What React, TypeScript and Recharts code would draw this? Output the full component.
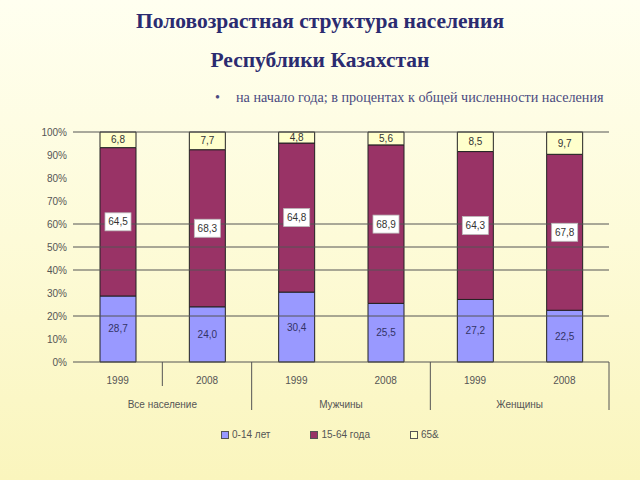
import React from "react";
import {
  BarChart,
  Bar,
  XAxis,
  YAxis,
  ReferenceLine,
  LabelList,
} from "recharts";

const years = ["1999", "2008", "1999", "2008", "1999", "2008"];
const groups = ["Все население", "Мужчины", "Женщины"];
const age0to14 = [28.7, 24.0, 30.4, 25.5, 27.2, 22.5];
const age15to64 = [64.5, 68.3, 64.8, 68.9, 64.3, 67.8];
const age65plus = [6.8, 7.7, 4.8, 5.6, 8.5, 9.7];
const yTicks = [0, 10, 20, 30, 40, 50, 60, 70, 80, 90, 100];
const gridValues = [20, 40, 50, 60, 100];

const seriesNames = ["0-14 лет", "15-64 года", "65&"];
const colors = ["#9999ff", "#993366", "#ffffcc"];

const data = years.map((year, i) => ({
  idx: i,
  year,
  a: age0to14[i],
  b: age15to64[i],
  c: age65plus[i],
}));

const W = 640;
const H = 480;
const PLOT_LEFT = 73;
const PLOT_RIGHT = 609;
const PLOT_TOP = 132;
const PLOT_BOTTOM = 362;
const BAND = (PLOT_RIGHT - PLOT_LEFT) / data.length;

const AXIS_FONT = "'Liberation Sans', Arial, sans-serif";
const SERIF = "'Liberation Serif', 'Times New Roman', serif";
const fmt = (v: number) => v.toFixed(1).replace(".", ",");

const YearTick = (props: any) => {
  const { x, y, payload } = props;
  const i = payload.index;
  const right = x + BAND / 2;
  // separator after each bar: short within the first group, long between groups
  const sepLen = i === 0 ? 24 : i % 2 === 1 ? 48 : 0;
  const groupLabel = i % 2 === 0 ? groups[i / 2] : null;
  return (
    <g>
      <text
        x={x}
        y={y + 22}
        textAnchor="middle"
        fill="#555"
        fontSize={10}
        fontFamily={AXIS_FONT}
      >
        {years[i]}
      </text>
      {sepLen > 0 && (
        <line x1={right} y1={y} x2={right} y2={y + sepLen} stroke="#555" strokeWidth={1} />
      )}
      {groupLabel && (
        <text
          x={right}
          y={y + 46}
          textAnchor="middle"
          fill="#555"
          fontSize={10}
          fontFamily={AXIS_FONT}
        >
          {groupLabel}
        </text>
      )}
    </g>
  );
};

const CenterLabel = (color: string, boxed: boolean) => (props: any) => {
  const { x, y, width, height, value } = props;
  const cx = x + width / 2;
  const cy = y + height / 2;
  return (
    <g>
      {boxed && (
        <rect
          x={cx - 13}
          y={cy - 9}
          width={26}
          height={18}
          fill="#ffffff"
          stroke="#bbbbbb"
          strokeWidth={0.8}
        />
      )}
      <text
        x={cx}
        y={cy + 3.5}
        textAnchor="middle"
        fill={color}
        fontSize={10}
        fontFamily={AXIS_FONT}
      >
        {fmt(value)}
      </text>
    </g>
  );
};

const LegendBlock = () => (
  <div
    style={{
      position: "absolute",
      top: 429,
      left: 221,
      display: "flex",
      gap: 40,
      fontFamily: AXIS_FONT,
      fontSize: 10,
      lineHeight: "12px",
      color: "#555",
      alignItems: "center",
    }}
  >
    {seriesNames.map((name, i) => (
      <div key={name} style={{ display: "flex", alignItems: "center" }}>
        <span
          style={{
            display: "inline-block",
            width: 6,
            height: 6,
            background: colors[i],
            border: "1px solid #555",
            marginRight: 3,
          }}
        />
        {name}
      </div>
    ))}
  </div>
);

export default function App() {
  return (
    <div
      style={{
        position: "absolute",
        left: 0,
        top: 0,
        width: W,
        height: H,
        background: "linear-gradient(to bottom, #fffff0 0%, #fdfbd8 50%, #faf5bd 100%)",
        overflow: "hidden",
      }}
    >
      <div
        style={{
          position: "absolute",
          top: 7,
          width: W,
          textAlign: "center",
          fontFamily: SERIF,
          fontWeight: "bold",
          fontSize: 21.5,
          lineHeight: "28px",
          color: "#2b2b70",
        }}
      >
        Половозрастная структура населения
      </div>
      <div
        style={{
          position: "absolute",
          top: 46,
          width: W,
          textAlign: "center",
          fontFamily: SERIF,
          fontWeight: "bold",
          fontSize: 21.5,
          lineHeight: "28px",
          color: "#2b2b70",
        }}
      >
        Республики Казахстан
      </div>
      <div
        style={{
          position: "absolute",
          top: 88,
          left: 215,
          fontFamily: SERIF,
          fontSize: 14.2,
          lineHeight: "18px",
          color: "#4a4a80",
          whiteSpace: "nowrap",
        }}
      >
        <span style={{ display: "inline-block", width: 21 }}>•</span>
        на начало года; в процентах к общей численности населения
      </div>
      <div style={{ position: "absolute", left: 0, top: 0 }}>
        <BarChart
          width={W}
          height={H}
          data={data}
          margin={{
            top: PLOT_TOP,
            bottom: H - PLOT_BOTTOM - 60,
            left: PLOT_LEFT - 45,
            right: W - PLOT_RIGHT,
          }}
          barSize={36}
        >
          {gridValues.map((v) => (
            <ReferenceLine key={v} y={v} stroke="#555" strokeWidth={1} />
          ))}
          <XAxis
            dataKey="idx"
            height={60}
            tickLine={false}
            tickSize={0}
            tickMargin={0}
            axisLine={{ stroke: "#555" }}
            tick={<YearTick />}
            interval={0}
          />
          <YAxis
            width={45}
            domain={[0, 100]}
            ticks={yTicks}
            tickFormatter={(v: number) => `${v}%`}
            axisLine={false}
            tickLine={false}
            tickSize={0}
            tickMargin={6}
            tick={{ fill: "#555", fontSize: 10, fontFamily: AXIS_FONT }}
            interval={0}
          />
          <Bar dataKey="a" stackId="s" fill={colors[0]} stroke="#222" strokeWidth={1} isAnimationActive={false}>
            <LabelList dataKey="a" content={CenterLabel("#333366", false)} />
          </Bar>
          <Bar dataKey="b" stackId="s" fill={colors[1]} stroke="#222" strokeWidth={1} isAnimationActive={false}>
            <LabelList dataKey="b" content={CenterLabel("#333333", true)} />
          </Bar>
          <Bar dataKey="c" stackId="s" fill={colors[2]} stroke="#222" strokeWidth={1} isAnimationActive={false}>
            <LabelList dataKey="c" content={CenterLabel("#333333", false)} />
          </Bar>
        </BarChart>
      </div>
      <LegendBlock />
    </div>
  );
}
